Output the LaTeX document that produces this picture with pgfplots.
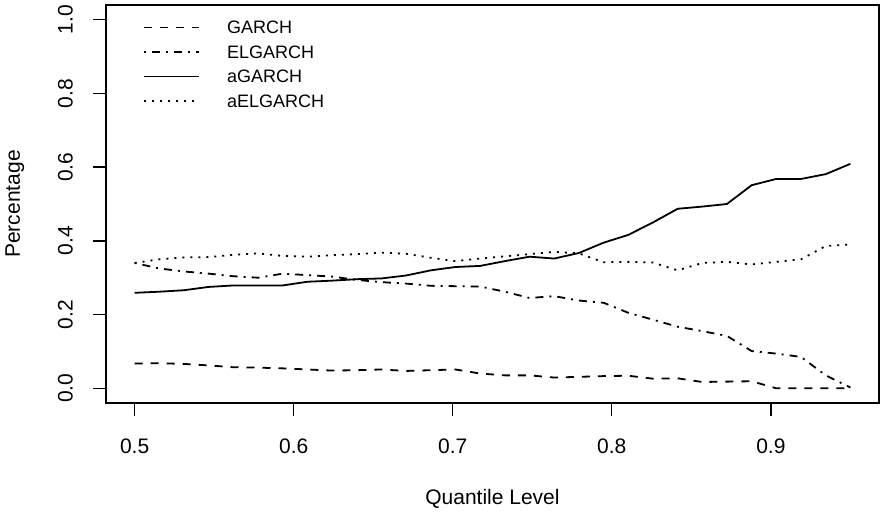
\documentclass[border=0pt]{standalone}
\usepackage{fontspec}
\setmainfont{Liberation Sans}
\usepackage{pgfplots}
\usepackage{pgfplotstable}
\pgfplotsset{compat=1.18}
\pgfplotstableread{
x       garch  elgarch agarch aelgarch
0.5000  0.067  0.340   0.259  0.340
0.5155  0.068  0.325   0.262  0.350
0.5310  0.066  0.317   0.266  0.355
0.5466  0.062  0.311   0.275  0.356
0.5621  0.057  0.304   0.279  0.362
0.5776  0.056  0.300   0.279  0.366
0.5931  0.054  0.311   0.279  0.359
0.6086  0.051  0.307   0.289  0.357
0.6241  0.048  0.303   0.292  0.361
0.6397  0.049  0.294   0.296  0.364
0.6552  0.051  0.288   0.298  0.368
0.6707  0.047  0.284   0.306  0.365
0.6862  0.049  0.278   0.320  0.354
0.7017  0.051  0.277   0.329  0.345
0.7172  0.040  0.276   0.332  0.352
0.7328  0.035  0.262   0.345  0.358
0.7483  0.035  0.245   0.357  0.364
0.7638  0.029  0.250   0.352  0.370
0.7793  0.031  0.238   0.367  0.366
0.7948  0.033  0.232   0.395  0.342
0.8103  0.034  0.205   0.416  0.343
0.8259  0.026  0.186   0.450  0.341
0.8414  0.027  0.167   0.487  0.320
0.8569  0.017  0.155   0.493  0.340
0.8724  0.018  0.142   0.500  0.343
0.8879  0.019  0.101   0.551  0.336
0.9034  0.000  0.094   0.568  0.343
0.9190  0.000  0.085   0.568  0.350
0.9345  0.000  0.035   0.581  0.386
0.9500  0.000  0.002   0.609  0.390
}\datatable
\begin{document}
\begin{tikzpicture}
\begin{axis}[
  scale only axis,
  width=773bp, height=398bp,
  xmin=0.482, xmax=0.968,
  ymin=-0.04, ymax=1.04,
  axis line style={line width=1.4bp},
  every tick/.style={black, line width=1.4bp},
  tick align=outside,
  major tick length=13bp,
  xtick pos=bottom, ytick pos=left,
  xtick={0.5,0.6,0.7,0.8,0.9},
  ytick={0,0.2,0.4,0.6,0.8,1.0},
  /pgf/number format/assume math mode=true,
  /pgf/number format/fixed,
  /pgf/number format/fixed zerofill,
  /pgf/number format/precision=1,
  ticklabel style={font=\fontsize{21bp}{25bp}\selectfont},
  xticklabel style={anchor=north, inner sep=0pt, yshift=-23bp},
  yticklabel style={xshift=-20bp, rotate=90, anchor=south, inner sep=0pt},
  every axis x label/.style={at={(axis description cs:0.5,0)}, yshift=-101bp, anchor=base},
  every axis y label/.style={at={(axis description cs:0,0.5)}, xshift=-86bp, rotate=90, anchor=base},
  label style={font=\fontsize{21bp}{25bp}\selectfont},
  xlabel={Quantile Level},
  ylabel={Percentage},
  legend style={draw=none, fill=none, at={(axis description cs:0.044,0.980)}, anchor=north west,
    font=\fontsize{18bp}{22bp}\selectfont, row sep=0pt, column sep=27bp,
    nodes={inner sep=0pt, text height=18.7bp, text depth=5.8bp}},
  legend cell align=left,
  legend image code/.code={\draw[#1, line width=1.8bp] (0bp,0bp) -- (55bp,0bp);},
]
\addplot[black, line width=1.8bp, dash pattern=on 8bp off 8bp] table[x=x,y=garch] {\datatable};
\addlegendentry{GARCH}
\addplot[black, line width=1.8bp, dash pattern=on 2bp off 6bp on 8bp off 6bp] table[x=x,y=elgarch] {\datatable};
\addlegendentry{ELGARCH}
\addplot[black, line width=1.8bp] table[x=x,y=agarch] {\datatable};
\addlegendentry{aGARCH}
\addplot[black, line width=1.8bp, dash pattern=on 2bp off 6bp] table[x=x,y=aelgarch] {\datatable};
\addlegendentry{aELGARCH}
\end{axis}
\path (-106bp,-105bp) rectangle (776bp,403bp);
\end{tikzpicture}
\end{document}
